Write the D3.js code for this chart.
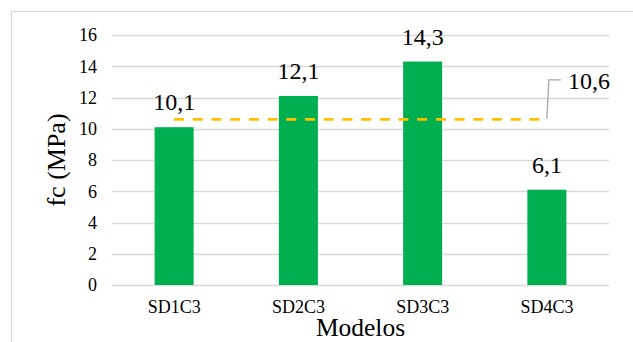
<!DOCTYPE html>
<html>
<head>
<meta charset="utf-8">
<script src="https://cdn.jsdelivr.net/npm/d3@7"></script>
<style>
  html, body { margin: 0; padding: 0; background: #fff; }
  svg { display: block; }
</style>
</head>
<body>
<script>
// Compressive strength per model, with the overall average
const categories = ["SD1C3", "SD2C3", "SD3C3", "SD4C3"];
const values = [10.1, 12.1, 14.3, 6.1];
const averageValue = 10.6;
const yTicks = [0, 2, 4, 6, 8, 10, 12, 14, 16];
const fmt = v => d3.format(".1f")(v).replace(".", ",");

const FONT = "'Liberation Serif'";
const W = 633, H = 342;
const svg = d3.select("body").append("svg")
  .attr("width", W).attr("height", H);

// chart area frame
svg.append("rect")
  .attr("x", 11.5).attr("y", 11.5)
  .attr("width", W + 20).attr("height", H + 20)
  .attr("fill", "none").attr("stroke", "#d9d9d9").attr("stroke-width", 1.2);

const plot = { left: 112, right: 609, top: 35, bottom: 285 };

const x = d3.scaleBand().domain(categories)
  .range([plot.left, plot.right])
  .paddingInner(0.686).paddingOuter(0.343);
const y = d3.scaleLinear().domain([0, 16]).range([plot.bottom, plot.top]);

// horizontal gridlines
svg.append("g").selectAll("line").data(yTicks).join("line")
  .attr("x1", plot.left).attr("x2", plot.right)
  .attr("y1", d => Math.round(y(d)) + 0.5).attr("y2", d => Math.round(y(d)) + 0.5)
  .attr("stroke", "#d9d9d9").attr("stroke-width", 1.3);

// y axis tick labels
const yAxis = d3.axisLeft(y).tickValues(yTicks).tickSize(0).tickPadding(0);
const gy = svg.append("g").attr("transform", `translate(${plot.left - 15},0)`).call(yAxis);
gy.select(".domain").remove();
gy.selectAll("text").attr("fill", "#000")
  .attr("font-family", FONT).attr("font-size", 18);

// x axis tick labels
const xAxis = d3.axisBottom(x).tickSize(0).tickPadding(0);
const gx = svg.append("g").attr("transform", `translate(0,${plot.bottom + 15})`).call(xAxis);
gx.select(".domain").remove();
gx.selectAll("text").attr("fill", "#000")
  .attr("font-family", FONT).attr("font-size", 18);

// bars
svg.append("g").selectAll("rect").data(values).join("rect")
  .attr("x", (d, i) => x(categories[i]))
  .attr("width", x.bandwidth())
  .attr("y", d => y(d))
  .attr("height", d => y(0) - y(d))
  .attr("fill", "#00b050");

// bar value labels
svg.append("g").selectAll("text").data(values).join("text")
  .attr("x", (d, i) => x(categories[i]) + x.bandwidth() / 2)
  .attr("y", d => y(d) - 17)
  .attr("text-anchor", "middle")
  .attr("font-family", FONT)
  .attr("font-size", 24)
  .text(d => fmt(d));

// average line across the categories
const cx = c => x(c) + x.bandwidth() / 2;
const avgLine = d3.line().x(d => cx(d)).y(() => y(averageValue));
svg.append("path")
  .datum(categories)
  .attr("d", avgLine)
  .attr("fill", "none")
  .attr("stroke", "#ffc000")
  .attr("stroke-width", 2.6)
  .attr("stroke-dasharray", "10,8.7");

// average label with leader line
const lastX = cx(categories[categories.length - 1]);
const ay = y(averageValue);
svg.append("path")
  .attr("d", `M${lastX},${ay - 1}L${lastX + 2},${ay - 39.5}L${lastX + 14},${ay - 39.5}`)
  .attr("fill", "none").attr("stroke", "#a6a6a6").attr("stroke-width", 1.3);
svg.append("text")
  .attr("x", lastX + 21).attr("y", ay - 30)
  .attr("font-family", FONT)
  .attr("font-size", 24)
  .text(fmt(averageValue));

// axis titles
svg.append("text")
  .attr("x", (plot.left + plot.right) / 2).attr("y", 336)
  .attr("text-anchor", "middle")
  .attr("font-family", FONT)
  .attr("font-size", 25.5)
  .text("Modelos");
svg.append("text")
  .attr("transform", `translate(65,${(plot.top + plot.bottom) / 2}) rotate(-90)`)
  .attr("text-anchor", "middle")
  .attr("font-family", FONT)
  .attr("font-size", 26)
  .text("fc (MPa)");
</script>
</body>
</html>
